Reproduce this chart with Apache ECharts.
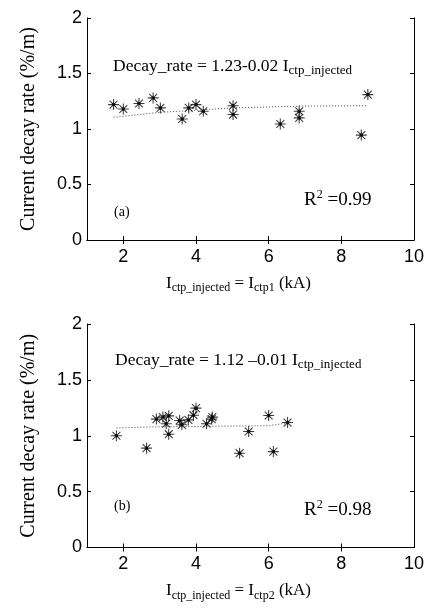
<!DOCTYPE html>
<html><head><meta charset="utf-8">
<script src="https://cdn.jsdelivr.net/npm/echarts@6/dist/echarts.min.js"></script>
<style>html,body{margin:0;padding:0;background:#fff}#c{width:427px;height:610px}</style>
</head><body><div id="c"></div>
<script>
const xTickValues = [2, 4, 6, 8, 10];
const xTopTicks = [2, 4, 6, 8];
// Panel (a)
const aX = [1.73, 2.0, 2.43, 2.82, 3.02, 3.62, 3.80, 4.0, 4.2, 5.02, 5.02, 6.32, 6.84, 6.84, 8.55, 8.73];
const aY = [1.22, 1.18, 1.23, 1.28, 1.19, 1.09, 1.19, 1.22, 1.16, 1.21, 1.13, 1.045, 1.16, 1.10, 0.945, 1.31];
const aFitX = [1.73, 3.02, 5.02, 6.84, 8.73];
const aFitY = [1.106, 1.15, 1.19, 1.206, 1.21];
// Panel (b)
const bX = [1.81, 2.64, 2.91, 3.09, 3.18, 3.25, 3.25, 3.55, 3.61, 3.79, 3.93, 4.0, 4.29, 4.43, 4.45, 5.2, 5.45, 6.0, 6.13, 6.52];
const bY = [1.0, 0.889, 1.149, 1.167, 1.107, 1.178, 1.014, 1.136, 1.098, 1.142, 1.184, 1.247, 1.107, 1.149, 1.167, 0.844, 1.038, 1.181, 0.858, 1.118];
const bFitX = [1.81, 2.9, 6.0, 6.52];
const bFitY = [1.07, 1.08, 1.09, 1.115];

const zip = (xs, ys) => xs.map((x, i) => [x, ys[i]]);
const SERIF = '"Liberation Serif","DejaVu Serif",serif';
const SANS = '"Liberation Sans",Arial,sans-serif';
const star = 'path://M0,-6L0,6M-6,0L6,0M-4.3,-4.3L4.3,4.3M-4.3,4.3L4.3,-4.3';

const grids = [
  {left: 87, right: 11, top: 18, height: 222},
  {left: 87, right: 11, top: 324, height: 223.5}
];
const xAxes = [], yAxes = [];
const xNames = [
  '{m|I}{s|ctp_injected}{m| = I}{s|ctp1}{m| (kA)}',
  '{m|I}{s|ctp_injected}{m| = I}{s|ctp2}{m| (kA)}'
];
const rich = {m: {fontFamily: SERIF, fontSize: 17, color: '#000'}, s: {fontFamily: SERIF, fontSize: 12, color: '#000', padding: [9, 0, 0, 0]}};
[0, 1].forEach(g => {
  xAxes.push({
    type: 'value', gridIndex: g, min: 1, max: 10, position: 'bottom',
    axisLine: {lineStyle: {color: '#000', width: 1}},
    axisTick: {inside: true, length: 4, customValues: xTickValues, lineStyle: {color: '#000'}},
    axisLabel: {customValues: xTickValues, fontFamily: SANS, fontSize: 18, color: '#000', margin: 8},
    splitLine: {show: false},
    name: xNames[g], nameLocation: 'middle', nameGap: 33,
    nameTextStyle: {rich: rich, padding: [0, 24, 0, 0]}
  });
  xAxes.push({
    type: 'value', gridIndex: g, min: 1, max: 10, position: 'top',
    axisLine: {lineStyle: {color: '#000', width: 1}},
    axisTick: {inside: true, length: 4, customValues: xTopTicks, lineStyle: {color: '#000'}},
    axisLabel: {show: false}, splitLine: {show: false}
  });
  yAxes.push({
    type: 'value', gridIndex: g, min: 0, max: 2, interval: 0.5, position: 'left',
    axisLine: {show: true, lineStyle: {color: '#000', width: 1}},
    axisTick: {show: true, inside: true, length: 4, lineStyle: {color: '#000'}},
    axisLabel: {fontFamily: SANS, fontSize: 18, color: '#000', margin: 5},
    splitLine: {show: false},
    name: 'Current decay rate (%/m)', nameLocation: 'middle', nameGap: 48,
    nameTextStyle: {fontFamily: SERIF, fontSize: 20, color: '#000'}
  });
  yAxes.push({
    type: 'value', gridIndex: g, min: 0, max: 2, interval: 0.5, position: 'right',
    axisLine: {show: true, lineStyle: {color: '#000', width: 1}},
    axisTick: {show: true, inside: true, length: 4, lineStyle: {color: '#000'}},
    axisLabel: {show: false}, splitLine: {show: false}
  });
});

function panelSeries(xIdx, yIdx, xs, ys, fx, fy) {
  return [
    {type: 'line', xAxisIndex: xIdx, yAxisIndex: yIdx, data: zip(fx, fy), symbol: 'none',
     lineStyle: {color: '#444', width: 1, type: [1, 2]}, silent: true, z: 2},
    {type: 'scatter', xAxisIndex: xIdx, yAxisIndex: yIdx, data: zip(xs, ys), symbol: star, symbolSize: 11,
     itemStyle: {color: 'transparent', borderColor: '#111', borderWidth: 1.1}, z: 3},
    {type: 'scatter', xAxisIndex: xIdx, yAxisIndex: yIdx, data: zip(xs, ys), symbol: 'circle', symbolSize: 3.5,
     itemStyle: {color: '#000'}, z: 4}
  ];
}

const eqRich = {
  m: {fontFamily: SERIF, fontSize: 17.5, fill: '#000'},
  s: {fontFamily: SERIF, fontSize: 13, fill: '#000', padding: [9, 0, 0, 0]},
  r: {fontFamily: SERIF, fontSize: 19, fill: '#000'},
  p: {fontFamily: SERIF, fontSize: 12, fill: '#000', padding: [0, 0, 10, 0]},
  l: {fontFamily: SERIF, fontSize: 14, fill: '#000'}
};
function txt(x, y, text) {
  return {type: 'text', left: x, top: y, style: {text: text, rich: eqRich, fill: '#000'}};
}

const chart = echarts.init(document.getElementById('c'), null, {renderer: 'canvas'});
chart.setOption({
  backgroundColor: '#fff',
  animation: false,
  grid: grids,
  xAxis: xAxes,
  yAxis: yAxes,
  series: [].concat(
    panelSeries(0, 0, aX, aY, aFitX, aFitY),
    panelSeries(2, 2, bX, bY, bFitX, bFitY)
  ),
  graphic: [
    txt(113, 57, '{m|Decay_rate = 1.23-0.02 I}{s|ctp_injected}'),
    txt(304, 189, '{r|R}{p|2}{r| =0.99}'),
    txt(114, 205, '{l|(a)}'),
    txt(115, 351, '{m|Decay_rate = 1.12 –0.01 I}{s|ctp_injected}'),
    txt(304, 499, '{r|R}{p|2}{r| =0.98}'),
    txt(114, 499, '{l|(b)}')
  ]
});
</script></body></html>
